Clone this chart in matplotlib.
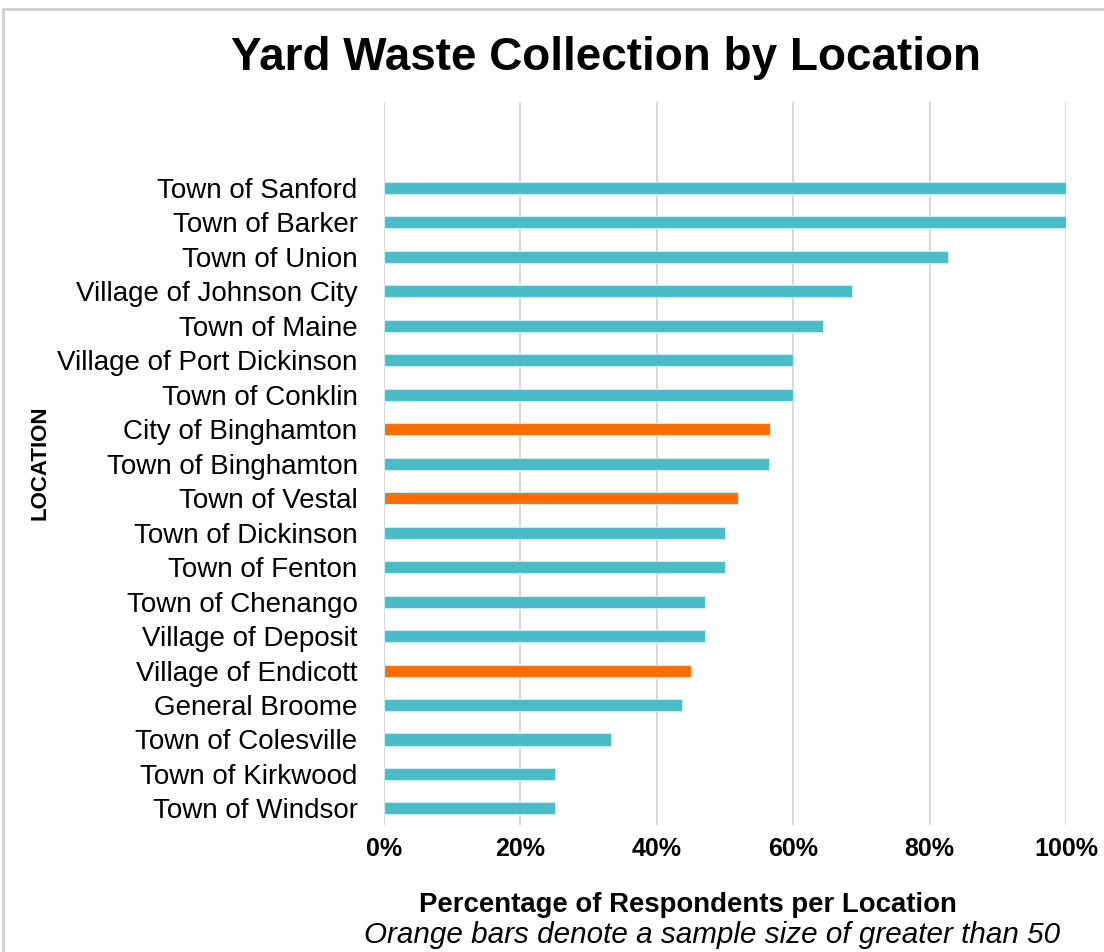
import matplotlib
matplotlib.use("Agg")
import matplotlib.pyplot as plt
from matplotlib.patches import Rectangle

plt.rcParams['font.family'] = ['Liberation Sans', 'DejaVu Sans']

# data (top to bottom as shown)
locations = ['Town of Sanford', 'Town of Barker', 'Town of Union', 'Village of Johnson City',
             'Town of Maine', 'Village of Port Dickinson', 'Town of Conklin', 'City of Binghamton',
             'Town of Binghamton', 'Town of Vestal', 'Town of Dickinson', 'Town of Fenton',
             'Town of Chenango', 'Village of Deposit', 'Village of Endicott', 'General Broome',
             'Town of Colesville', 'Town of Kirkwood', 'Town of Windsor']
pct = [100, 100, 82.7, 68.6, 64.3, 60, 60, 56.6, 56.4, 51.9, 50, 50, 47.1, 47.1, 45, 43.7, 33.3, 25, 25]
large_sample = ['City of Binghamton', 'Town of Vestal', 'Village of Endicott']
xticks = [0, 20, 40, 60, 80, 100]

teal = '#4ABCC7'
orange = '#FF6D00'

fig = plt.figure(figsize=(11.04, 9.52), dpi=100)
ax = fig.add_axes([384/1104, 1-825/952, (1066-384)/1104, (825-102)/952])

n = len(locations)
ypos = [n - 1 - i for i in range(n)]
colors = [orange if loc in large_sample else teal for loc in locations]
ax.barh(ypos, pct, height=0.35, color=colors, edgecolor='#c8eef2', linewidth=0.8, zorder=3)

ax.set_xlim(0, 100)
ax.set_ylim(-0.48, n - 1 + 2.49)
ax.set_xticks(xticks)
ax.set_xticklabels([f'{t}%' for t in xticks], fontsize=18, fontweight='bold')
ax.set_yticks(ypos)
ax.set_yticklabels(locations, fontsize=20)
ax.tick_params(axis='both', length=0)
ax.tick_params(axis='x', pad=9)
ax.tick_params(axis='y', pad=19)
ax.grid(axis='x', color='#d9d9d9', linewidth=1.5, zorder=0)
for s in ax.spines.values():
    s.set_visible(False)

fig.text(606/1104, 1-58/952, 'Yard Waste Collection by Location', ha='center', va='center',
         fontsize=33, fontweight='bold')
fig.text(40/1104, 1-463/952, 'LOCATION', ha='center', va='center', rotation=90,
         fontsize=16, fontweight='bold')
fig.text(688/1104, 1-905/952, 'Percentage of Respondents per Location', ha='center', va='center',
         fontsize=19.8, fontweight='bold')
fig.text(712/1104, 1-935/952, 'Orange bars denote a sample size of greater than 50', ha='center',
         va='center', fontsize=21.3, style='italic')

# outer frame (only top and left visible)
fig.add_artist(Rectangle((3/1104, -0.1), 1.2, 1 - 9/952 + 0.1, transform=fig.transFigure,
                         fill=False, edgecolor='#cfcfcf', linewidth=2))

fig.savefig('out.png', dpi=100)
